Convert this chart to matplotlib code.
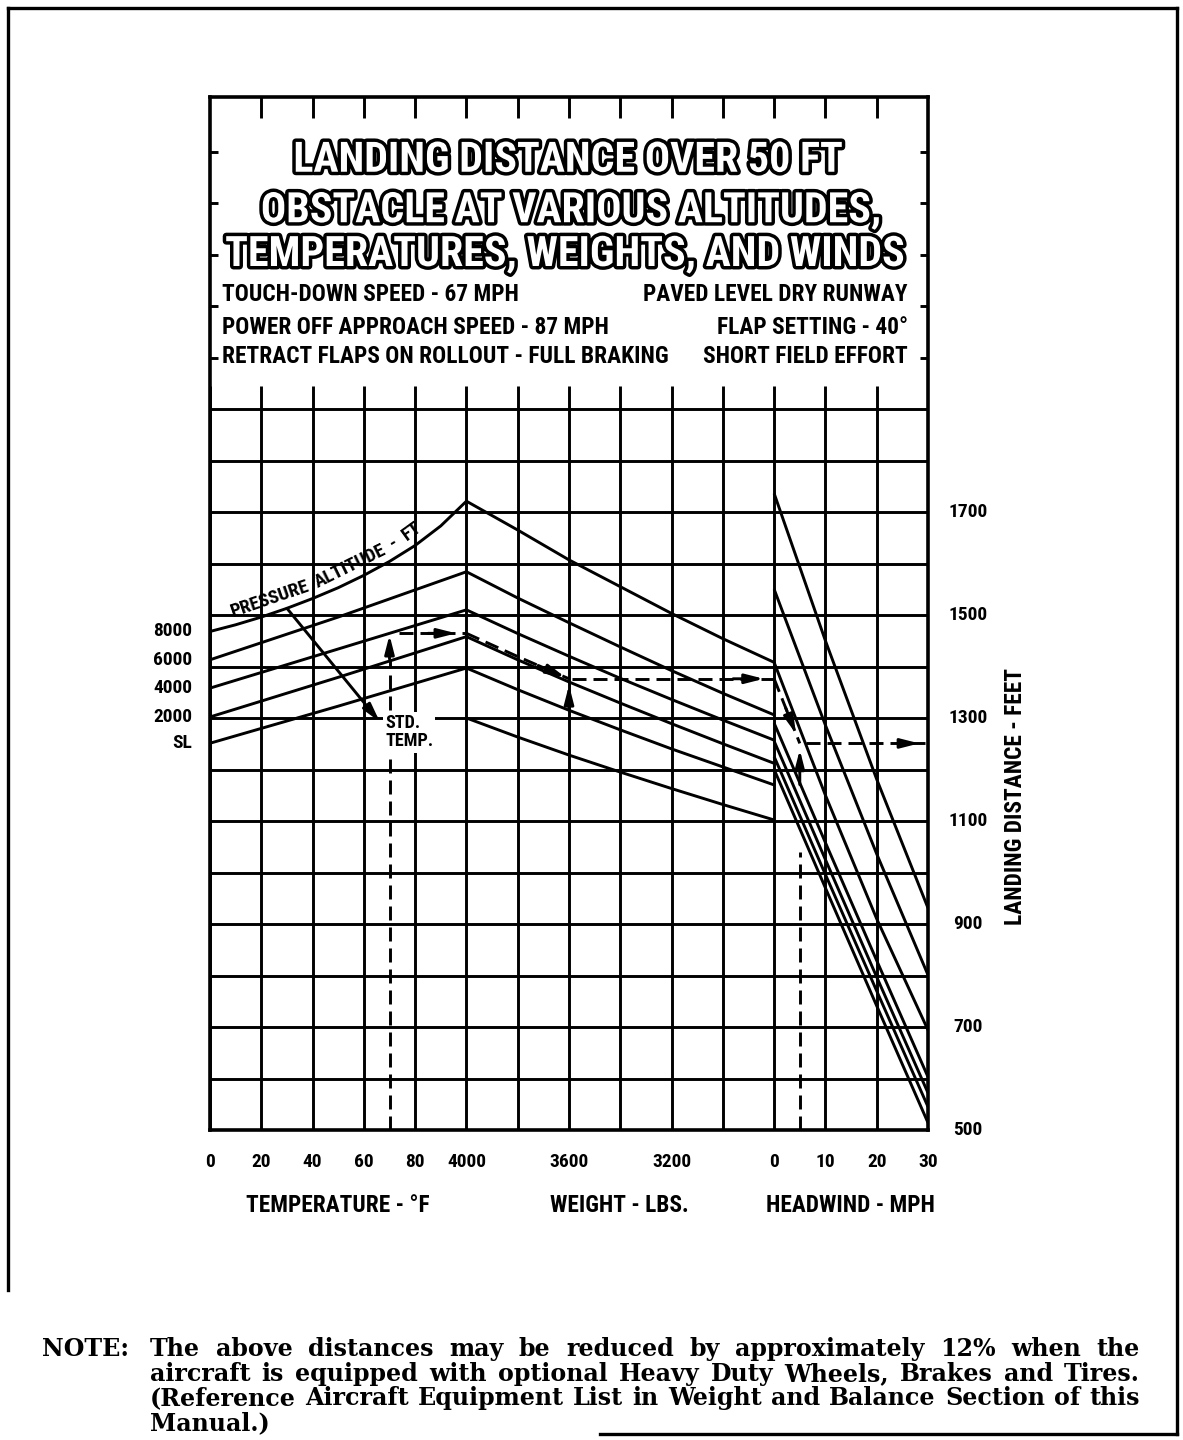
import numpy as np
import matplotlib
matplotlib.use("Agg")
import matplotlib.pyplot as plt
import matplotlib.patheffects as pe
from matplotlib import font_manager as fm
from matplotlib.lines import Line2D

W, H = 1183, 1440

# ---- temperature section: landing distance (ft) vs OAT (deg F) per pressure altitude
alt_labels = ["8000", "6000", "4000", "2000", "SL"]
temp_8000 = [0, 10, 20, 30, 40, 50, 60, 70, 80, 90, 100]
dist_8000 = [1468, 1481, 1496, 1513, 1532, 1553, 1577, 1604, 1635, 1673, 1721]
temp_pts = [0, 50, 100]
dist_6000 = [1413, 1496, 1584]
dist_4000 = [1358, 1434, 1510]
dist_2000 = [1302, 1379, 1458]
dist_sl = [1251, 1323, 1397]
std_temp = [30, 38, 45, 52, 59]          # 8000 ... SL

# ---- weight guide lines
weights = [4000, 3800, 3600, 3400, 3200, 3000, 2800]
wt_1 = [1721, 1665, 1607, 1555, 1503, 1454, 1408]
wt_2 = [1584, 1533, 1485, 1438, 1392, 1348, 1306]
wt_3 = [1510, 1464, 1420, 1377, 1336, 1296, 1257]
wt_4 = [1458, 1413, 1370, 1329, 1289, 1250, 1212]
wt_5 = [1397, 1355, 1315, 1277, 1240, 1205, 1170]
wt_6 = [1300, 1263, 1228, 1195, 1163, 1132, 1102]

# ---- headwind guide lines
winds = [0, 10, 20, 30]
wind_1 = [1736, 1450, 1181, 931]
wind_2 = [1550, 1286, 1036, 801]
wind_3 = [1408, 1150, 910, 694]
wind_4 = [1290, 1058, 829, 603]
wind_5 = [1255, 1025, 797, 572]
wind_6 = [1225, 996, 770, 545]
wind_7 = [1200, 970, 741, 514]

# ---- worked example
ex_temp, ex_alt, ex_weight, ex_wind = 70, "4000", 3600, 5

# ---- axis labels
temp_ticks = [0, 20, 40, 60, 80]
weight_ticks = [4000, 3600, 3200]
wind_ticks = [0, 10, 20, 30]
dist_ticks = [1700, 1500, 1300, 1100, 900, 700, 500]

title_lines = ["LANDING DISTANCE OVER 50 FT",
               "OBSTACLE AT VARIOUS ALTITUDES,",
               "TEMPERATURES, WEIGHTS, AND WINDS"]
cond_left = ["TOUCH-DOWN SPEED - 67 MPH",
             "POWER OFF APPROACH SPEED - 87 MPH",
             "RETRACT FLAPS ON ROLLOUT - FULL BRAKING"]
cond_right = ["PAVED LEVEL DRY RUNWAY", "FLAP SETTING - 40\u00b0", "SHORT FIELD EFFORT"]
curve_words = [("PRESSURE", 10, 40), ("ALTITUDE", 43, 71), ("-", 73.5, 75.5), ("FT", 78, 85)]
note_lines = ["The above distances may be reduced by approximately 12% when the",
              "aircraft is equipped with optional Heavy Duty Wheels, Brakes and Tires.",
              "(Reference Aircraft Equipment List in Weight and Balance Section of this",
              "Manual.)"]


# pick the narrowest bold sans that is installed
def narrow_font():
    pref = ["Liberation Sans Narrow", "Roboto Condensed", "Noto Sans Condensed",
            "Open Sans Condensed", "DejaVu Sans", "Noto Sans", "Open Sans", "Roboto"]
    found = {}
    for f in fm.fontManager.ttflist:
        bold = f.weight in ("bold", "semibold", "demibold") or (isinstance(f.weight, int) and f.weight >= 600)
        cond = "condensed" in str(f.stretch) or "Narrow" in f.name or "Condensed" in f.name
        if bold and cond and f.name in pref:
            found.setdefault(f.name, f.fname)
    for name in pref:
        if name in found:
            return found[name]
    return fm.findfont(fm.FontProperties(family="DejaVu Sans", weight="bold"))


NARROW_FILE = narrow_font()


def nf(size):
    return fm.FontProperties(fname=NARROW_FILE, size=size)


SERIF = ["DejaVu Serif"]

PX_PER_F = 51.29 / 20      # pixels per deg F in the temperature panel
PX_PER_FT = 0.515          # pixels per foot of landing distance


# chart x position (grid cells) for each scale
def tx(t):
    return np.asarray(t, float) / 20.0


def wx(w):
    return 5 + (4000 - np.asarray(w, float)) / 200.0


def hx(v):
    return 11 + np.asarray(v, float) / 10.0


def follow(guides, value):
    # interpolate between the two guide lines bracketing value at their start
    for hi, lo in zip(guides[:-1], guides[1:]):
        if lo[0] <= value <= hi[0]:
            t = (value - lo[0]) / (hi[0] - lo[0])
            return np.array(lo) + t * (np.array(hi) - np.array(lo))
    return np.array(guides[-1], float)


fig = plt.figure(figsize=(W / 100, H / 100), dpi=100)
renderer = fig.canvas.get_renderer()
ax = fig.add_axes([210 / W, 1 - 1130 / H, 718 / W, 1033 / H])
ytop = 500 + 1033 / PX_PER_FT
ax.set_xlim(0, 14)
ax.set_ylim(500, ytop)
ax.set_xticks([])
ax.set_yticks([])
for s in ax.spines.values():
    s.set_linewidth(2.6)


def fit_size(txt, target):
    # font size that gives the text the target width in pixels
    t = fig.text(0, 0, txt, fontproperties=nf(20))
    bb = t.get_window_extent(renderer)
    t.remove()
    return 20 * target / bb.width


LW = 2.1
K = dict(color="black", lw=LW, solid_capstyle="butt")
DASH = dict(color="black", lw=LW, dashes=(4.8, 2.4))


def arrow(p0, p1):
    ax.annotate("", xy=p1, xytext=p0,
                arrowprops=dict(arrowstyle="-|>,head_length=1.1,head_width=0.28",
                                lw=LW, color="black", shrinkA=0, shrinkB=0))


# grid
for i in range(15):
    ax.plot([i, i], [500, 1945], zorder=1, **K)
for d in range(500, 1901, 100):
    ax.plot([0, 14], [d, d], zorder=1, **K)
# ticks in the heading box
for i in range(1, 14):
    ax.plot([i, i], [ytop, ytop - 40], **K)
for d in range(2000, 2401, 100):
    ax.plot([0, 0.15], [d, d], **K)
    ax.plot([13.85, 14], [d, d], **K)

# heading
fx = [pe.withStroke(linewidth=5, foreground="black")]
s_title = fit_size(title_lines[2], 680)
for txt, xc, y in zip(title_lines, [6.98, 7.04, 6.92], [2383, 2285, 2200]):
    ax.text(xc, y, txt, ha="center", va="center", fontproperties=nf(s_title),
            color="white", path_effects=fx)
s_cond = fit_size(cond_left[2], 446)
for txt, y in zip(cond_left, [2122, 2059, 2001]):
    ax.text(0.23, y, txt, ha="left", va="center", fontproperties=nf(s_cond))
for txt, y in zip(cond_right, [2122, 2059, 2001]):
    ax.text(13.61, y, txt, ha="right", va="center", fontproperties=nf(s_cond))

# temperature section
s_tick = min(fit_size("4000", 39), 15)
alt_lines = {"8000": (temp_8000, dist_8000), "6000": (temp_pts, dist_6000),
             "4000": (temp_pts, dist_4000), "2000": (temp_pts, dist_2000),
             "SL": (temp_pts, dist_sl)}
for lab in alt_labels:
    t, d = alt_lines[lab]
    ax.plot(tx(t), d, solid_joinstyle="round", **K)
    ax.text(-0.35, d[0], lab, ha="right", va="center", fontproperties=nf(s_tick))

# standard temperature leader
s0 = np.interp(std_temp[0], temp_8000, dist_8000)
s1 = np.interp(std_temp[-1], temp_pts, dist_sl)
p0 = np.array([tx(std_temp[0]), s0])
p1 = np.array([tx(std_temp[-1]), s1])
pend = p0 + 1.25 * (p1 - p0)
arrow(tuple(p0), tuple(pend))

# weight and wind guides
for g in [wt_1, wt_2, wt_3, wt_4, wt_5, wt_6]:
    ax.plot(wx(weights), g, **K)
wind_guides = [wind_1, wind_2, wind_3, wind_4, wind_5, wind_6, wind_7]
for g in wind_guides:
    ax.plot(hx(winds), g, **K)

# worked example
t_ex, d_ex = alt_lines[ex_alt]
e_t = np.interp(ex_temp, t_ex, d_ex)
ax.plot(tx([ex_temp, ex_temp]), [500, e_t - 50], **DASH)
arrow((tx(ex_temp), e_t - 50), (tx(ex_temp), e_t - 3))
ax.plot([tx(ex_temp) + 0.18, tx(100)], [e_t, e_t], **DASH)
arrow((tx(85), e_t), (tx(96), e_t))

pw = follow([wt_1, wt_2, wt_3, wt_4, wt_5, wt_6], e_t)
n = weights.index(ex_weight)
ax.plot(wx(weights[:n + 1]), pw[:n + 1], **DASH)
wr, pr = weights[::-1], pw[::-1]
arrow((wx(3720), np.interp(3720, wr, pr)), (wx(3615), np.interp(3615, wr, pr)))
e_w = pw[n]
arrow((wx(ex_weight), e_w - 60), (wx(ex_weight), e_w - 12))
ax.plot([wx(ex_weight) + 0.05, hx(0)], [e_w, e_w], **DASH)
arrow((wx(2960), e_w), (wx(2840), e_w))

ph = follow(wind_guides, e_w)
e_h = np.interp(ex_wind, winds, ph)
ax.plot(hx([0, ex_wind]), [e_w, e_h], **DASH)
f0, f1 = 0.45, 0.85
arrow((hx(ex_wind * f0), e_w + f0 * (e_h - e_w)), (hx(ex_wind * f1), e_w + f1 * (e_h - e_w)))
arrow((hx(ex_wind), e_h - 80), (hx(ex_wind), e_h - 12))
low = np.interp(ex_wind, winds, wind_7)
ax.plot(hx([ex_wind, ex_wind]), [500, low - 45], **DASH)
ax.plot([hx(ex_wind) + 0.12, 14], [e_h, e_h], **DASH)
arrow((hx(24), e_h), (hx(28.3), e_h))

# curve label riding on the 8000 ft line
s_pa = fit_size("PRESSURE", 82)
for word, ta, tb in curve_words:
    ya = np.interp(ta, temp_8000, dist_8000)
    yb = np.interp(tb, temp_8000, dist_8000)
    a = np.arctan2((yb - ya) * PX_PER_FT, (tb - ta) * PX_PER_F)
    xc = tx((ta + tb) / 2) - np.sin(a) * 13 / 51.29
    yc = (ya + yb) / 2 + np.cos(a) * 13 / PX_PER_FT
    ax.text(xc, yc, word, rotation=np.degrees(a), rotation_mode="anchor", ha="center",
            va="center", fontproperties=nf(s_pa))
ax.text(pend[0] + 0.1, pend[1] - 20, "STD.\nTEMP.", ha="left", va="center",
        fontproperties=nf(fit_size("TEMP.", 48)), linespacing=1.0,
        bbox=dict(facecolor="white", edgecolor="none", pad=1.5), zorder=5)

# bottom scales
tk = dict(fontproperties=nf(s_tick), ha="center", va="center", clip_on=False)
for v in temp_ticks:
    ax.text(tx(v), 438, str(v), **tk)
for v in weight_ticks:
    ax.text(wx(v), 438, str(v), **tk)
for v in wind_ticks:
    ax.text(hx(v), 438, str(v), **tk)
s_ttl = fit_size("TEMPERATURE - \u00b0F", 183)
ttl = dict(fontproperties=nf(s_ttl), ha="center", va="center")
ax.text(2.5, 354, "TEMPERATURE - \u00b0F", **ttl)
ax.text(7.99, 354, "WEIGHT - LBS.", **ttl)
ax.text(12.48, 354, "HEADWIND - MPH", **ttl)
for v in dist_ticks:
    ax.text(14.78, v, str(v), **tk)
ax.text(15.7, 1148, "LANDING DISTANCE - FEET", rotation=90, ha="center", va="center",
        fontproperties=nf(fit_size("LANDING DISTANCE - FEET", 257)))


# page frame
def frame(x0, y0, x1, y1):
    fig.add_artist(Line2D([x0 / W, x1 / W], [1 - y0 / H, 1 - y1 / H], color="black", lw=2.4))


frame(8, 8, 1177, 8)
frame(8, 8, 8, 1290)
frame(1177, 8, 1177, 1434)
frame(600, 1434, 1177, 1434)

# note, justified like the original
nt = dict(fontweight="bold", family=SERIF, va="baseline")
probe = fig.text(0, 0, note_lines[2], fontsize=16, **nt)
s_note = 16 * 978 / probe.get_window_extent(renderer).width
probe.remove()
nt["fontsize"] = s_note
fig.text(42 / W, 1 - 1356 / H, "NOTE:", **nt)
for i, line in enumerate(note_lines):
    yb = 1 - (1356 + 24.7 * i) / H
    if i == len(note_lines) - 1:
        fig.text(150 / W, yb, line, **nt)
        continue
    words = line.split()
    ts = [fig.text(0, yb, w, **nt) for w in words]
    widths = [t.get_window_extent(renderer).width for t in ts]
    gap = (990 - sum(widths)) / (len(words) - 1)
    x = 150
    for t, wd in zip(ts, widths):
        t.set_x(x / W)
        x += wd + gap

fig.savefig("out.png", dpi=100)
